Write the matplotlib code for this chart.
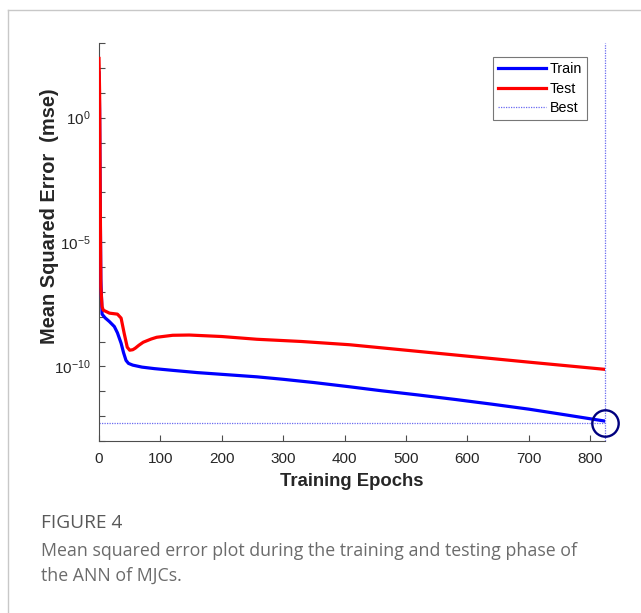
import numpy as np
import matplotlib
matplotlib.use("Agg")
import matplotlib.pyplot as plt
from matplotlib.lines import Line2D
from matplotlib.ticker import FixedLocator, NullLocator

# ---- data (log10 of MSE) ----
train_epochs = [0, 1, 2, 3, 5, 10, 17, 25, 30, 36, 40, 44, 48, 55, 70, 90, 120, 160, 200,
                257, 300, 350, 408, 460, 520, 580, 640, 700, 760, 824]
train_log = [1.8, 0.3, -3.5, -6.5, -7.9, -8.05, -8.2, -8.4, -8.65, -9.07, -9.45, -9.76,
             -9.88, -9.95, -10.03, -10.09, -10.16, -10.25, -10.32, -10.42, -10.52, -10.65,
             -10.82, -10.98, -11.15, -11.33, -11.52, -11.72, -11.95, -12.2]

test_epochs = [0, 1, 2, 3, 5, 7, 17, 30, 36, 41, 46, 50, 55, 59, 65, 72, 85, 94, 120, 147,
               200, 257, 330, 408, 500, 600, 700, 824]
test_log = [2.38, 1.0, -3.0, -6.8, -7.6, -7.74, -7.86, -7.9, -8.06, -8.67, -9.23, -9.35,
            -9.33, -9.27, -9.15, -9.03, -8.9, -8.83, -8.75, -8.74, -8.8, -8.91, -9.0, -9.13,
            -9.35, -9.59, -9.83, -10.12]

best_epoch = 824
best_log = -12.26

x_ticks = [0, 100, 200, 300, 400, 500, 600, 700, 800]
y_label_exps = [0, -5, -10]

plt.rcParams['font.family'] = ['Liberation Sans', 'DejaVu Sans']
plt.rcParams['mathtext.default'] = 'regular'

fig = plt.figure(figsize=(6.41, 6.13), dpi=100)

# page border lines
border = '#c8c8c8'
fig.add_artist(Line2D([8/641, 1.0], [1 - 10/613, 1 - 10/613], color=border, lw=1.0,
                      transform=fig.transFigure))
fig.add_artist(Line2D([8/641, 8/641], [0, 1 - 10/613], color=border, lw=1.0,
                      transform=fig.transFigure))

ax = fig.add_axes([99/641, 1 - 441/613, (605 - 99)/641, (441 - 43)/613])

tr = np.array(train_log)
te = np.array(test_log)
ax.plot(train_epochs, 10.0 ** tr, color='#0000ff', lw=2.3, label='Train', zorder=3)
ax.plot(test_epochs, 10.0 ** te, color='#ff0000', lw=2.3, label='Test', zorder=4)

best_val = 10.0 ** best_log
best_color = '#6a6af0'
ax.axhline(best_val, color=best_color, lw=0.9, ls=(0, (1, 1)), label='Best', zorder=2,
           clip_on=False)
ax.axvline(best_epoch, color=best_color, lw=0.9, ls=(0, (1, 1)), zorder=2, clip_on=False)
ax.plot([best_epoch], [best_val], marker='o', ms=19, mfc='none', mec='#00007f',
        mew=1.7, zorder=5, clip_on=False)

ax.set_yscale('log')
ax.set_xlim(0, best_epoch)
ax.set_ylim(1e-13, 1e3)

ax.xaxis.set_major_locator(FixedLocator(x_ticks))
ax.set_xticklabels([str(v) for v in x_ticks])
yt = [10.0 ** e for e in range(-13, 4)]
ax.yaxis.set_major_locator(FixedLocator(yt))
ax.yaxis.set_minor_locator(NullLocator())
ax.set_yticklabels(['$10^{%d}$' % e if e in y_label_exps else '' for e in range(-13, 4)])

for s in ['top', 'right']:
    ax.spines[s].set_visible(False)
for s in ['left', 'bottom']:
    ax.spines[s].set_color('#4d4d4d')
    ax.spines[s].set_linewidth(0.8)
ax.tick_params(axis='both', direction='in', length=4, width=0.8, color='#4d4d4d',
               labelcolor='#262626', labelsize=11)
ax.tick_params(axis='x', pad=8)
ax.tick_params(axis='y', pad=6)

ax.set_xlabel('Training Epochs', fontsize=13.3, fontweight='bold', color='#262626', labelpad=5)
ax.set_ylabel('Mean Squared Error  (mse)', fontsize=14.4, fontweight='bold', color='#262626',
              va='center')
ax.yaxis.set_label_coords(-0.097, 0.565)

leg = ax.legend(loc='upper right', bbox_to_anchor=(0.965, 0.965), fontsize=10.3,
                frameon=True, fancybox=False, edgecolor='#555555', handlelength=3.3,
                borderpad=0.35, labelspacing=0.4, handletextpad=0.3, borderaxespad=0)
leg.get_frame().set_linewidth(0.8)

# caption
fig.text(41/641, 1 - 523/613, 'FIGURE 4', fontsize=13.8, color='#595959',
         family=['Open Sans', 'DejaVu Sans'], va='center', ha='left')
fig.text(41/641, 1 - 551/613, 'Mean squared error plot during the training and testing phase of',
         fontsize=12.8, color='#6b6b6b', family=['Open Sans', 'DejaVu Sans'], va='center', ha='left')
fig.text(41/641, 1 - 576/613, 'the ANN of MJCs.',
         fontsize=12.8, color='#6b6b6b', family=['Open Sans', 'DejaVu Sans'], va='center', ha='left')

fig.savefig('out.png', dpi=100)
